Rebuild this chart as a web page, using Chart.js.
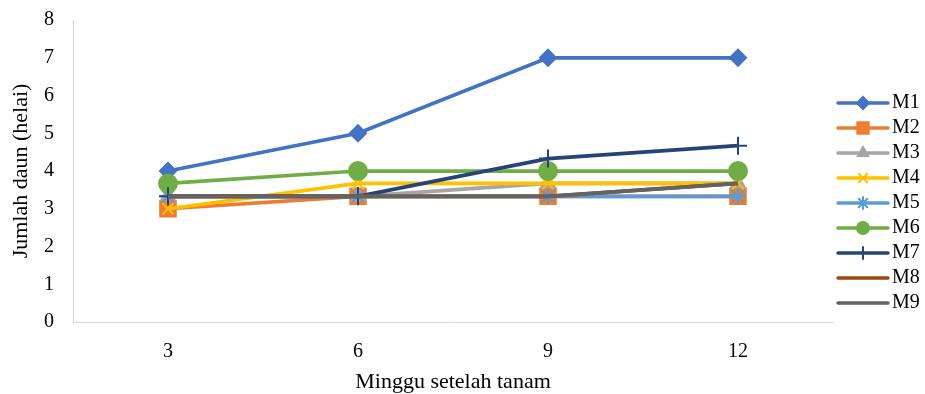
<!DOCTYPE html>
<html>
<head>
<meta charset="utf-8">
<script src="https://cdn.jsdelivr.net/npm/chart.js@4"></script>
<style>
  html, body { margin: 0; padding: 0; background: #fff; }
  #wrap { width: 925px; height: 394px; }
</style>
</head>
<body>
<div id="wrap"><canvas id="c" width="925" height="394"></canvas></div>
<script>
// Weeks after planting
const weeks = ['3', '6', '9', '12'];

// Leaf count per treatment
const M1 = [4, 5, 7, 7];
const M2 = [3, 3.33, 3.33, 3.33];
const M3 = [3.33, 3.33, 3.67, 3.67];
const M4 = [3, 3.67, 3.67, 3.67];
const M5 = [3.33, 3.33, 3.33, 3.33];
const M6 = [3.67, 4, 4, 4];
const M7 = [3.33, 3.33, 4.33, 4.67];
const M8 = [3.33, 3.33, 3.33, 3.67];
const M9 = [3.33, 3.33, 3.33, 3.67];

const yTicks = [0, 1, 2, 3, 4, 5, 6, 7, 8];

const seriesDefs = [
  { label: 'M1', data: M1, color: '#4472C4', style: 'rectRot', r: 8 },
  { label: 'M2', data: M2, color: '#ED7D31', style: 'rect', r: 11 },
  { label: 'M3', data: M3, color: '#A5A5A5', style: 'triangle', r: 8 },
  { label: 'M4', data: M4, color: '#FFC000', style: 'crossRot', r: 8 },
  { label: 'M5', data: M5, color: '#5B9BD5', style: 'star', r: 8 },
  { label: 'M6', data: M6, color: '#70AD47', style: 'circle', r: 9 },
  { label: 'M7', data: M7, color: '#264478', style: 'cross', r: 9 },
  { label: 'M8', data: M8, color: '#9E480E', style: false, r: 0 },
  { label: 'M9', data: M9, color: '#636363', style: false, r: 0 }
];

const FONT = 'Liberation Serif, Times New Roman, serif';

// Line-with-marker swatch for the legend (drawn a little right of the box centre)
function swatch(def) {
  const w = 62, h = 16;
  const cv = document.createElement('canvas');
  cv.width = w; cv.height = h;
  const ctx = cv.getContext('2d');
  const mid = 34;
  ctx.strokeStyle = def.color;
  ctx.lineWidth = 3.5;
  ctx.lineCap = 'round';
  ctx.beginPath();
  ctx.moveTo(9, h / 2);
  ctx.lineTo(59, h / 2);
  ctx.stroke();
  if (def.style) {
    ctx.fillStyle = def.color;
    ctx.strokeStyle = def.color;
    ctx.lineWidth = 2;
    const r = def.style === 'rect' ? 8 : 6;
    Chart.helpers.drawPoint(ctx, { pointStyle: def.style, radius: r, rotation: 0, borderWidth: 2 }, mid, h / 2);
  }
  return cv;
}

const datasets = seriesDefs.map((d, i) => ({
  label: d.label,
  data: d.data,
  borderColor: d.color,
  backgroundColor: d.color,
  borderWidth: 3.75,
  pointStyle: d.style,
  pointRadius: d.r,
  pointHoverRadius: d.r,
  pointBorderWidth: 2,
  pointBorderColor: d.color,
  pointBackgroundColor: d.color,
  tension: 0,
  order: seriesDefs.length - i
}));

new Chart(document.getElementById('c'), {
  type: 'line',
  data: { labels: weeks, datasets },
  options: {
    responsive: false,
    animation: false,
    layout: { padding: { top: 20, right: 0, left: 0, bottom: 8 } },
    plugins: {
      tooltip: { enabled: false },
      legend: {
        position: 'right',
        align: 'center',
        maxWidth: 92,
        labels: {
          usePointStyle: true,
          pointStyleWidth: 44,
          boxHeight: 16,
          padding: 5,
          color: '#000',
          font: { family: FONT, size: 20 },
          generateLabels: () => seriesDefs.map((d, i) => ({
            text: d.label,
            pointStyle: swatch(d),
            fillStyle: d.color,
            strokeStyle: d.color,
            lineWidth: 0,
            hidden: false,
            datasetIndex: i,
            fontColor: '#000'
          }))
        }
      }
    },
    scales: {
      x: {
        type: 'category',
        offset: true,
        grid: { display: false },
        border: { display: true, color: '#D9D9D9', width: 1 },
        ticks: { color: '#000', font: { family: FONT, size: 20 }, padding: 10 },
        title: {
          display: true,
          text: 'Minggu setelah tanam',
          color: '#000',
          font: { family: FONT, size: 22 },
          padding: { top: 0, bottom: -9 }
        },
        afterFit: (axis) => { axis.height = 64; }
      },
      y: {
        min: 0,
        max: 8,
        afterBuildTicks: (axis) => { axis.ticks = yTicks.map(v => ({ value: v })); },
        grid: { display: false },
        border: { display: true, color: '#D9D9D9', width: 1 },
        ticks: { color: '#000', font: { family: FONT, size: 20 }, padding: 11 },
        title: {
          display: true,
          text: 'Jumlah daun (helai)',
          color: '#000',
          font: { family: FONT, size: 22 },
          padding: { top: 8, bottom: 0 }
        },
        afterFit: (axis) => {
          axis.width = 73;
          axis.paddingTop = 0;
          axis.paddingBottom = 0;
        }
      }
    }
  }
});
</script>
</body>
</html>
